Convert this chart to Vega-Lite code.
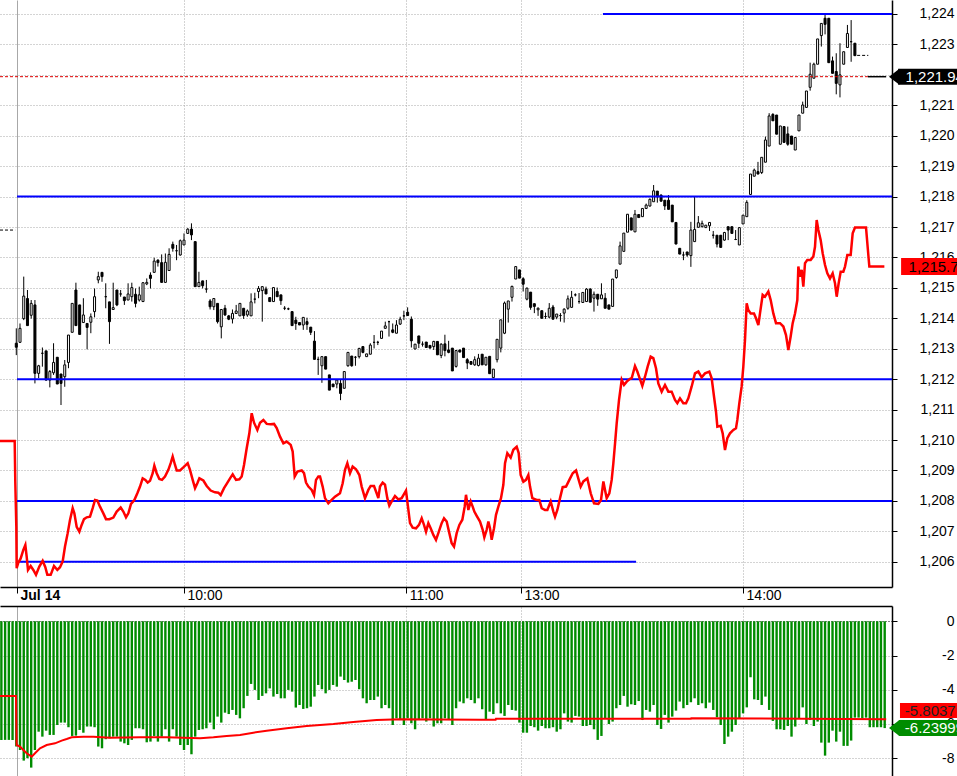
{
"$schema": "https://vega.github.io/schema/vega-lite/v6.json",
"padding": 0,
"bounds": "flush",
"spacing": 19,
"background": "white",
"config": {"view": {"stroke": null}, "font": "Liberation Sans", "axis": {"labelOverlap": false, "labelSeparation": 0}, "axisY": {"labelOverlap": false}, "axisQuantitative": {"labelOverlap": false}},
"datasets": {
"k": [
{"i":-4,"g":-6.93},{"i":-3,"g":-6.93},{"i":-2,"g":-6.93},{"i":-1,"g":-6.93},
{"i":0,"o":1213.18,"h":1213.67,"l":1212.79,"c":1213.05,"g":-7.32},
{"i":1,"o":1213.21,"h":1213.83,"l":1213.21,"c":1213.67,"g":-7.52},
{"i":2,"o":1213.99,"h":1215.37,"l":1213.94,"c":1214.73,"g":-8.14},
{"i":3,"o":1214.65,"h":1214.93,"l":1213.76,"c":1213.76,"g":-8.00},
{"i":4,"o":1214.10,"h":1214.60,"l":1213.99,"c":1214.49,"g":-8.55},
{"i":5,"o":1214.44,"h":1214.60,"l":1211.86,"c":1212.19,"g":-7.52},
{"i":6,"o":1212.19,"h":1212.47,"l":1212.03,"c":1212.44,"g":-6.45},
{"i":7,"o":1212.85,"h":1213.04,"l":1212.41,"c":1212.85,"g":-6.74},
{"i":8,"o":1212.93,"h":1212.93,"l":1211.95,"c":1211.97,"g":-6.39},
{"i":9,"o":1211.97,"h":1212.30,"l":1211.73,"c":1212.25,"g":-6.64},
{"i":10,"o":1212.21,"h":1213.18,"l":1212.14,"c":1212.55,"g":-6.64},
{"i":11,"o":1212.72,"h":1212.72,"l":1211.84,"c":1211.84,"g":-6.06},
{"i":12,"o":1212.17,"h":1212.17,"l":1211.15,"c":1211.86,"g":-5.92},
{"i":13,"o":1212.08,"h":1212.63,"l":1211.75,"c":1212.47,"g":-5.92},
{"i":14,"o":1212.55,"h":1213.45,"l":1212.36,"c":1213.45,"g":-6.19},
{"i":15,"o":1213.54,"h":1214.49,"l":1213.54,"c":1214.49,"g":-6.70},
{"i":16,"o":1214.93,"h":1215.17,"l":1213.76,"c":1213.76,"g":-6.68},
{"i":17,"o":1214.44,"h":1214.44,"l":1213.47,"c":1213.47,"g":-6.35},
{"i":18,"o":1213.86,"h":1214.66,"l":1213.86,"c":1214.11,"g":-6.51},
{"i":19,"o":1213.83,"h":1213.83,"l":1212.98,"c":1213.70,"g":-6.15},
{"i":20,"o":1213.87,"h":1214.16,"l":1213.51,"c":1214.05,"g":-6.15},
{"i":21,"o":1214.22,"h":1214.98,"l":1214.03,"c":1214.71,"g":-6.19},
{"i":22,"o":1215.26,"h":1215.53,"l":1215.15,"c":1215.37,"g":-7.32},
{"i":23,"o":1215.51,"h":1215.51,"l":1215.20,"c":1215.37,"g":-7.42},
{"i":24,"o":1214.71,"h":1215.15,"l":1214.33,"c":1214.71,"g":-6.89},
{"i":25,"o":1214.54,"h":1214.54,"l":1213.16,"c":1213.89,"g":-6.84},
{"i":26,"o":1214.29,"h":1215.17,"l":1214.29,"c":1214.35,"g":-6.74},
{"i":27,"o":1214.93,"h":1214.93,"l":1214.40,"c":1214.44,"g":-6.74},
{"i":28,"o":1214.80,"h":1214.93,"l":1214.71,"c":1214.80,"g":-7.03},
{"i":29,"o":1214.70,"h":1214.70,"l":1214.44,"c":1214.58,"g":-7.13},
{"i":30,"o":1214.60,"h":1215.15,"l":1214.60,"c":1214.80,"g":-7.23},
{"i":31,"o":1214.71,"h":1215.17,"l":1214.55,"c":1215.01,"g":-6.93},
{"i":32,"o":1214.79,"h":1214.98,"l":1214.36,"c":1214.49,"g":-6.25},
{"i":33,"o":1214.60,"h":1215.04,"l":1214.55,"c":1214.77,"g":-6.25},
{"i":34,"o":1214.55,"h":1215.17,"l":1214.55,"c":1215.17,"g":-6.31},
{"i":35,"o":1215.13,"h":1215.31,"l":1215.09,"c":1215.18,"g":-7.07},
{"i":36,"o":1215.42,"h":1215.51,"l":1214.98,"c":1215.31,"g":-7.03},
{"i":37,"o":1215.51,"h":1215.99,"l":1215.51,"c":1215.88,"g":-6.70},
{"i":38,"o":1215.91,"h":1215.94,"l":1215.70,"c":1215.83,"g":-7.03},
{"i":39,"o":1215.83,"h":1216.10,"l":1215.18,"c":1215.18,"g":-6.74},
{"i":40,"o":1215.18,"h":1216.13,"l":1215.18,"c":1215.84,"g":-6.31},
{"i":41,"o":1215.57,"h":1216.30,"l":1215.57,"c":1216.10,"g":-7.03},
{"i":42,"o":1216.43,"h":1216.52,"l":1216.19,"c":1216.30,"g":-6.31},
{"i":43,"o":1216.22,"h":1216.41,"l":1215.91,"c":1216.22,"g":-6.74},
{"i":44,"o":1216.08,"h":1216.59,"l":1216.06,"c":1216.55,"g":-7.23},
{"i":45,"o":1216.41,"h":1216.79,"l":1216.41,"c":1216.57,"g":-7.52},
{"i":46,"o":1216.79,"h":1216.96,"l":1216.77,"c":1216.93,"g":-7.23},
{"i":47,"o":1216.93,"h":1217.12,"l":1216.57,"c":1216.74,"g":-7.77},
{"i":48,"o":1216.52,"h":1216.52,"l":1215.04,"c":1215.04,"g":-6.74},
{"i":49,"o":1215.04,"h":1215.53,"l":1215.04,"c":1215.18,"g":-6.35},
{"i":50,"o":1215.23,"h":1215.23,"l":1214.98,"c":1215.07,"g":-6.31},
{"i":51,"o":1214.96,"h":1215.26,"l":1214.84,"c":1214.96,"g":-6.25},
{"i":52,"o":1214.57,"h":1214.63,"l":1214.29,"c":1214.38,"g":-5.92},
{"i":53,"o":1214.38,"h":1214.65,"l":1214.27,"c":1214.65,"g":-6.31},
{"i":54,"o":1214.49,"h":1214.49,"l":1213.83,"c":1213.89,"g":-5.57},
{"i":55,"o":1213.72,"h":1214.29,"l":1213.34,"c":1214.29,"g":-5.92},
{"i":56,"o":1214.33,"h":1214.44,"l":1214.08,"c":1214.11,"g":-5.34},
{"i":57,"o":1214.08,"h":1214.11,"l":1213.94,"c":1213.97,"g":-5.42},
{"i":58,"o":1213.98,"h":1214.29,"l":1213.83,"c":1214.16,"g":-5.18},
{"i":59,"o":1214.16,"h":1214.44,"l":1214.14,"c":1214.24,"g":-5.47},
{"i":60,"o":1214.08,"h":1214.49,"l":1214.08,"c":1214.49,"g":-5.67},
{"i":61,"o":1214.33,"h":1214.33,"l":1213.98,"c":1214.09,"g":-5.08},
{"i":62,"o":1214.11,"h":1214.29,"l":1214.05,"c":1214.24,"g":-4.36},
{"i":63,"o":1214.08,"h":1214.82,"l":1214.08,"c":1214.54,"g":-3.66},
{"i":64,"o":1214.63,"h":1214.84,"l":1214.49,"c":1214.63,"g":-4.01},
{"i":65,"o":1214.88,"h":1215.06,"l":1214.66,"c":1214.98,"g":-4.60},
{"i":66,"o":1214.91,"h":1215.06,"l":1213.89,"c":1215.04,"g":-4.36},
{"i":67,"o":1214.96,"h":1215.04,"l":1214.80,"c":1214.80,"g":-4.21},
{"i":68,"o":1214.68,"h":1214.68,"l":1214.55,"c":1214.55,"g":-3.92},
{"i":69,"o":1214.55,"h":1215.01,"l":1214.55,"c":1215.01,"g":-4.40},
{"i":70,"o":1214.88,"h":1215.01,"l":1214.71,"c":1214.71,"g":-4.25},
{"i":71,"o":1214.77,"h":1214.77,"l":1214.44,"c":1214.58,"g":-4.50},
{"i":72,"o":1214.33,"h":1214.40,"l":1214.27,"c":1214.33,"g":-4.50},
{"i":73,"o":1214.31,"h":1214.35,"l":1214.27,"c":1214.31,"g":-4.01},
{"i":74,"o":1214.22,"h":1214.22,"l":1213.76,"c":1213.76,"g":-4.11},
{"i":75,"o":1213.94,"h":1214.05,"l":1213.62,"c":1213.83,"g":-5.04},
{"i":76,"o":1213.86,"h":1213.86,"l":1213.78,"c":1213.78,"g":-4.89},
{"i":77,"o":1213.78,"h":1214.03,"l":1213.62,"c":1214.03,"g":-5.12},
{"i":78,"o":1213.89,"h":1214.02,"l":1213.62,"c":1213.80,"g":-5.08},
{"i":79,"o":1213.71,"h":1213.71,"l":1213.45,"c":1213.54,"g":-4.99},
{"i":80,"o":1213.25,"h":1213.58,"l":1212.65,"c":1212.65,"g":-4.40},
{"i":81,"o":1212.65,"h":1212.74,"l":1212.14,"c":1212.65,"g":-3.72},
{"i":82,"o":1212.44,"h":1212.74,"l":1211.88,"c":1212.74,"g":-3.97},
{"i":83,"o":1212.74,"h":1212.74,"l":1212.33,"c":1212.33,"g":-4.21},
{"i":84,"o":1212.14,"h":1212.14,"l":1211.64,"c":1211.64,"g":-4.01},
{"i":85,"o":1211.84,"h":1211.84,"l":1211.75,"c":1211.75,"g":-3.72},
{"i":86,"o":1211.84,"h":1211.99,"l":1211.70,"c":1211.97,"g":-3.82},
{"i":87,"o":1211.86,"h":1211.99,"l":1211.31,"c":1211.53,"g":-3.23},
{"i":88,"o":1211.70,"h":1212.25,"l":1211.70,"c":1212.25,"g":-3.43},
{"i":89,"o":1212.44,"h":1212.88,"l":1212.41,"c":1212.88,"g":-3.58},
{"i":90,"o":1212.76,"h":1212.76,"l":1212.41,"c":1212.44,"g":-3.53},
{"i":91,"o":1212.72,"h":1212.76,"l":1212.44,"c":1212.72,"g":-3.43},
{"i":92,"o":1212.74,"h":1213.03,"l":1212.68,"c":1213.01,"g":-3.97},
{"i":93,"o":1213.07,"h":1213.09,"l":1212.85,"c":1212.88,"g":-4.50},
{"i":94,"o":1212.74,"h":1212.83,"l":1212.74,"c":1212.83,"g":-4.79},
{"i":95,"o":1212.82,"h":1213.18,"l":1212.82,"c":1213.12,"g":-4.60},
{"i":96,"o":1213.21,"h":1213.45,"l":1213.01,"c":1213.21,"g":-4.60},
{"i":97,"o":1213.21,"h":1213.26,"l":1213.12,"c":1213.21,"g":-4.40},
{"i":98,"o":1213.34,"h":1213.58,"l":1213.34,"c":1213.58,"g":-5.08},
{"i":99,"o":1213.67,"h":1213.89,"l":1213.67,"c":1213.75,"g":-4.89},
{"i":100,"o":1213.89,"h":1213.92,"l":1213.40,"c":1213.89,"g":-5.08},
{"i":101,"o":1213.62,"h":1213.83,"l":1213.51,"c":1213.54,"g":-6.06},
{"i":102,"o":1213.51,"h":1213.94,"l":1213.51,"c":1213.78,"g":-5.67},
{"i":103,"o":1213.81,"h":1214.05,"l":1213.78,"c":1213.97,"g":-5.77},
{"i":104,"o":1214.08,"h":1214.25,"l":1213.94,"c":1214.08,"g":-6.06},
{"i":105,"o":1214.20,"h":1214.36,"l":1214.09,"c":1214.09,"g":-5.67},
{"i":106,"o":1213.97,"h":1214.06,"l":1213.04,"c":1213.26,"g":-5.96},
{"i":107,"o":1212.99,"h":1213.15,"l":1212.99,"c":1213.15,"g":-6.31},
{"i":108,"o":1213.42,"h":1213.42,"l":1213.02,"c":1213.18,"g":-5.77},
{"i":109,"o":1213.15,"h":1213.24,"l":1213.07,"c":1213.15,"g":-5.67},
{"i":110,"o":1213.22,"h":1213.22,"l":1213.04,"c":1213.04,"g":-5.86},
{"i":111,"o":1213.11,"h":1213.11,"l":1213.02,"c":1213.02,"g":-5.67},
{"i":112,"o":1213.07,"h":1213.26,"l":1212.96,"c":1213.24,"g":-6.15},
{"i":113,"o":1213.24,"h":1213.24,"l":1212.80,"c":1212.80,"g":-5.96},
{"i":114,"o":1212.78,"h":1213.18,"l":1212.69,"c":1213.15,"g":-5.96},
{"i":115,"o":1213.16,"h":1213.46,"l":1212.75,"c":1212.94,"g":-5.67},
{"i":116,"o":1212.96,"h":1213.26,"l":1212.85,"c":1212.88,"g":-5.77},
{"i":117,"o":1213.02,"h":1213.02,"l":1212.27,"c":1212.27,"g":-6.06},
{"i":118,"o":1212.42,"h":1212.96,"l":1212.38,"c":1212.94,"g":-5.08},
{"i":119,"o":1212.96,"h":1212.96,"l":1212.89,"c":1212.89,"g":-4.69},
{"i":120,"o":1213.02,"h":1213.02,"l":1212.71,"c":1212.71,"g":-4.79},
{"i":121,"o":1212.64,"h":1212.69,"l":1212.33,"c":1212.53,"g":-4.50},
{"i":122,"o":1212.58,"h":1212.58,"l":1212.49,"c":1212.49,"g":-4.60},
{"i":123,"o":1212.47,"h":1212.75,"l":1212.44,"c":1212.64,"g":-4.79},
{"i":124,"o":1212.45,"h":1212.83,"l":1212.42,"c":1212.69,"g":-4.50},
{"i":125,"o":1212.82,"h":1212.82,"l":1212.47,"c":1212.47,"g":-5.14},
{"i":126,"o":1212.47,"h":1212.72,"l":1212.44,"c":1212.72,"g":-5.71},
{"i":127,"o":1212.75,"h":1212.75,"l":1212.18,"c":1212.18,"g":-5.28},
{"i":128,"o":1212.05,"h":1212.33,"l":1212.05,"c":1212.33,"g":-5.42},
{"i":129,"o":1212.64,"h":1213.31,"l":1212.55,"c":1213.31,"g":-4.79},
{"i":130,"o":1213.02,"h":1213.95,"l":1212.88,"c":1213.95,"g":-5.38},
{"i":131,"o":1213.51,"h":1214.55,"l":1213.48,"c":1214.50,"g":-5.53},
{"i":132,"o":1214.30,"h":1214.57,"l":1213.86,"c":1214.57,"g":-4.89},
{"i":133,"o":1214.69,"h":1215.07,"l":1214.55,"c":1215.05,"g":-5.18},
{"i":134,"o":1215.29,"h":1215.70,"l":1215.29,"c":1215.70,"g":-5.22},
{"i":135,"o":1215.59,"h":1215.59,"l":1215.32,"c":1215.32,"g":-5.92},
{"i":136,"o":1215.30,"h":1215.35,"l":1214.88,"c":1215.12,"g":-6.51},
{"i":137,"o":1214.63,"h":1215.01,"l":1214.59,"c":1214.99,"g":-6.51},
{"i":138,"o":1214.86,"h":1214.86,"l":1214.28,"c":1214.36,"g":-6.12},
{"i":139,"o":1214.48,"h":1214.48,"l":1214.17,"c":1214.39,"g":-6.19},
{"i":140,"o":1214.28,"h":1214.36,"l":1214.08,"c":1214.33,"g":-6.39},
{"i":141,"o":1214.25,"h":1214.25,"l":1214.00,"c":1214.00,"g":-6.12},
{"i":142,"o":1214.06,"h":1214.19,"l":1213.98,"c":1214.06,"g":-6.25},
{"i":143,"o":1214.04,"h":1214.50,"l":1214.00,"c":1214.33,"g":-6.25},
{"i":144,"o":1214.37,"h":1214.44,"l":1213.97,"c":1213.97,"g":-6.19},
{"i":145,"o":1214.04,"h":1214.14,"l":1213.97,"c":1214.14,"g":-6.45},
{"i":146,"o":1214.09,"h":1214.17,"l":1213.89,"c":1214.09,"g":-6.31},
{"i":147,"o":1214.17,"h":1214.33,"l":1213.86,"c":1214.30,"g":-5.38},
{"i":148,"o":1214.33,"h":1214.75,"l":1214.28,"c":1214.64,"g":-5.86},
{"i":149,"o":1214.36,"h":1214.90,"l":1214.36,"c":1214.69,"g":-5.92},
{"i":150,"o":1214.77,"h":1214.82,"l":1214.72,"c":1214.77,"g":-5.53},
{"i":151,"o":1214.55,"h":1214.83,"l":1214.48,"c":1214.55,"g":-5.57},
{"i":152,"o":1214.52,"h":1214.85,"l":1214.52,"c":1214.85,"g":-6.12},
{"i":153,"o":1214.55,"h":1214.99,"l":1214.55,"c":1214.96,"g":-6.12},
{"i":154,"o":1214.96,"h":1214.99,"l":1214.52,"c":1214.53,"g":-6.06},
{"i":155,"o":1214.66,"h":1214.88,"l":1214.22,"c":1214.79,"g":-6.31},
{"i":156,"o":1214.79,"h":1214.79,"l":1214.41,"c":1214.63,"g":-6.93},
{"i":157,"o":1214.64,"h":1215.15,"l":1214.64,"c":1214.77,"g":-6.70},
{"i":158,"o":1214.66,"h":1214.83,"l":1214.33,"c":1214.33,"g":-5.67},
{"i":159,"o":1214.44,"h":1214.44,"l":1214.30,"c":1214.30,"g":-6.00},
{"i":160,"o":1214.39,"h":1215.29,"l":1214.39,"c":1215.29,"g":-5.86},
{"i":161,"o":1215.34,"h":1215.59,"l":1215.30,"c":1215.59,"g":-5.08},
{"i":162,"o":1215.78,"h":1216.52,"l":1215.78,"c":1216.38,"g":-4.89},
{"i":163,"o":1216.20,"h":1216.80,"l":1216.20,"c":1216.80,"g":-4.36},
{"i":164,"o":1216.83,"h":1217.42,"l":1216.83,"c":1217.42,"g":-4.99},
{"i":165,"o":1217.30,"h":1217.30,"l":1216.90,"c":1216.90,"g":-4.85},
{"i":166,"o":1216.84,"h":1217.56,"l":1216.84,"c":1217.42,"g":-4.89},
{"i":167,"o":1217.41,"h":1217.41,"l":1217.31,"c":1217.31,"g":-4.66},
{"i":168,"o":1217.34,"h":1217.61,"l":1217.34,"c":1217.61,"g":-5.77},
{"i":169,"o":1217.61,"h":1217.77,"l":1217.59,"c":1217.72,"g":-5.18},
{"i":170,"o":1217.69,"h":1217.94,"l":1217.67,"c":1217.91,"g":-5.28},
{"i":171,"o":1217.83,"h":1218.38,"l":1217.83,"c":1218.19,"g":-4.89},
{"i":172,"o":1218.18,"h":1218.18,"l":1217.80,"c":1217.99,"g":-6.06},
{"i":173,"o":1218.05,"h":1218.07,"l":1217.83,"c":1217.85,"g":-6.29},
{"i":174,"o":1217.88,"h":1217.88,"l":1217.56,"c":1217.69,"g":-5.47},
{"i":175,"o":1217.88,"h":1218.05,"l":1217.58,"c":1217.58,"g":-5.92},
{"i":176,"o":1217.72,"h":1217.72,"l":1217.17,"c":1217.17,"g":-5.57},
{"i":177,"o":1217.15,"h":1217.15,"l":1216.44,"c":1216.44,"g":-5.22},
{"i":178,"o":1216.30,"h":1216.30,"l":1216.11,"c":1216.11,"g":-4.69},
{"i":179,"o":1216.08,"h":1216.19,"l":1215.91,"c":1216.08,"g":-5.08},
{"i":180,"o":1216.18,"h":1216.18,"l":1216.02,"c":1216.08,"g":-4.89},
{"i":181,"o":1216.06,"h":1217.17,"l":1215.69,"c":1216.90,"g":-4.73},
{"i":182,"o":1216.52,"h":1217.99,"l":1216.52,"c":1216.92,"g":-4.50},
{"i":183,"o":1216.99,"h":1217.36,"l":1216.99,"c":1217.14,"g":-4.89},
{"i":184,"o":1217.01,"h":1217.21,"l":1216.99,"c":1217.12,"g":-4.79},
{"i":185,"o":1216.98,"h":1217.06,"l":1216.98,"c":1217.06,"g":-5.08},
{"i":186,"o":1217.04,"h":1217.15,"l":1216.87,"c":1217.15,"g":-4.75},
{"i":187,"o":1216.73,"h":1216.87,"l":1216.62,"c":1216.73,"g":-5.18},
{"i":188,"o":1216.73,"h":1216.73,"l":1216.33,"c":1216.44,"g":-5.61},
{"i":189,"o":1216.73,"h":1216.73,"l":1216.33,"c":1216.33,"g":-6.06},
{"i":190,"o":1216.57,"h":1216.84,"l":1216.55,"c":1216.82,"g":-7.17},
{"i":191,"o":1217.01,"h":1217.01,"l":1216.57,"c":1216.90,"g":-6.74},
{"i":192,"o":1217.01,"h":1217.01,"l":1216.79,"c":1216.79,"g":-6.45},
{"i":193,"o":1216.59,"h":1216.90,"l":1216.57,"c":1216.59,"g":-6.06},
{"i":194,"o":1216.41,"h":1216.98,"l":1216.41,"c":1216.98,"g":-5.67},
{"i":195,"o":1217.10,"h":1217.39,"l":1217.10,"c":1217.39,"g":-5.38},
{"i":196,"o":1217.34,"h":1217.88,"l":1217.34,"c":1217.81,"g":-5.03},
{"i":197,"o":1218.07,"h":1218.74,"l":1218.07,"c":1218.74,"g":-3.27},
{"i":198,"o":1218.67,"h":1218.92,"l":1218.67,"c":1218.87,"g":-4.56},
{"i":199,"o":1218.82,"h":1219.14,"l":1218.74,"c":1218.74,"g":-4.60},
{"i":200,"o":1218.79,"h":1219.29,"l":1218.74,"c":1219.29,"g":-4.89},
{"i":201,"o":1219.13,"h":1219.97,"l":1219.13,"c":1219.86,"g":-4.40},
{"i":202,"o":1219.66,"h":1220.74,"l":1219.66,"c":1220.65,"g":-5.18},
{"i":203,"o":1220.70,"h":1220.74,"l":1220.49,"c":1220.49,"g":-5.82},
{"i":204,"o":1220.68,"h":1220.68,"l":1220.05,"c":1220.05,"g":-6.31},
{"i":205,"o":1219.72,"h":1220.32,"l":1219.72,"c":1220.32,"g":-6.31},
{"i":206,"o":1220.30,"h":1220.30,"l":1219.78,"c":1219.78,"g":-6.35},
{"i":207,"o":1220.06,"h":1220.30,"l":1219.67,"c":1219.72,"g":-6.12},
{"i":208,"o":1219.99,"h":1219.99,"l":1219.72,"c":1219.72,"g":-6.74},
{"i":209,"o":1219.53,"h":1219.94,"l":1219.53,"c":1219.94,"g":-6.15},
{"i":210,"o":1220.16,"h":1220.68,"l":1220.16,"c":1220.68,"g":-5.67},
{"i":211,"o":1220.74,"h":1221.12,"l":1220.74,"c":1221.01,"g":-5.03},
{"i":212,"o":1220.93,"h":1221.47,"l":1220.93,"c":1221.47,"g":-6.00},
{"i":213,"o":1221.59,"h":1222.40,"l":1221.48,"c":1222.02,"g":-5.77},
{"i":214,"o":1221.89,"h":1222.40,"l":1221.89,"c":1222.35,"g":-6.12},
{"i":215,"o":1222.35,"h":1223.18,"l":1222.35,"c":1223.18,"g":-5.86},
{"i":216,"o":1223.29,"h":1223.69,"l":1222.93,"c":1223.69,"g":-7.09},
{"i":217,"o":1223.86,"h":1223.97,"l":1223.33,"c":1223.66,"g":-7.85},
{"i":218,"o":1223.86,"h":1223.86,"l":1222.40,"c":1222.40,"g":-7.09},
{"i":219,"o":1222.46,"h":1222.60,"l":1222.05,"c":1222.05,"g":-6.39},
{"i":220,"o":1222.11,"h":1222.71,"l":1221.36,"c":1221.72,"g":-7.03},
{"i":221,"o":1221.67,"h":1223.04,"l":1221.26,"c":1222.00,"g":-6.45},
{"i":222,"o":1222.35,"h":1222.76,"l":1222.35,"c":1222.76,"g":-7.28},
{"i":223,"o":1222.90,"h":1223.64,"l":1222.90,"c":1223.36,"g":-7.28},
{"i":224,"o":1223.09,"h":1223.80,"l":1222.43,"c":1223.09,"g":-6.97},
{"i":225,"o":1223.04,"h":1223.04,"l":1222.63,"c":1222.63,"g":-5.63},
{"i":226,"g":-5.63},{"i":227,"g":-5.67},{"i":228,"g":-5.63},{"i":229,"g":-6.19},{"i":230,"g":-6.19},{"i":231,"g":-6.19},{"i":232,"g":-6.19},{"i":233,"g":-6.24}
],
"ln": [
{"t":-4.37,"v":1209.97},{"t":-0.43,"v":1209.97},{"t":-0.26,"v":1208.58},{"t":0.01,"v":1207.15},{"t":0.10,"v":1205.79},{"t":0.55,"v":1205.97},{"t":1.18,"v":1206.11},{"t":1.89,"v":1206.39},{"t":2.43,"v":1206.55},{"t":2.79,"v":1206.17},{"t":3.14,"v":1205.73},{"t":3.86,"v":1205.86},{"t":4.57,"v":1205.73},{"t":5.29,"v":1205.57},{"t":6.18,"v":1205.84},{"t":7.08,"v":1206.03},{"t":7.79,"v":1205.82},{"t":8.33,"v":1205.57},{"t":9.23,"v":1205.57},{"t":10.12,"v":1205.86},{"t":11.01,"v":1205.73},{"t":11.73,"v":1205.82},{"t":12.45,"v":1206.01},{"t":13.07,"v":1206.50},{"t":13.79,"v":1206.94},{"t":14.41,"v":1207.37},{"t":15.13,"v":1207.76},{"t":15.58,"v":1207.59},{"t":16.20,"v":1207.15},{"t":16.92,"v":1206.99},{"t":17.54,"v":1207.21},{"t":18.17,"v":1207.40},{"t":18.89,"v":1207.46},{"t":19.78,"v":1207.48},{"t":20.50,"v":1207.76},{"t":21.12,"v":1208.03},{"t":21.75,"v":1208.01},{"t":22.46,"v":1207.81},{"t":23.36,"v":1207.59},{"t":24.07,"v":1207.40},{"t":24.97,"v":1207.40},{"t":26.04,"v":1207.45},{"t":26.94,"v":1207.65},{"t":28.01,"v":1207.78},{"t":28.72,"v":1207.65},{"t":29.44,"v":1207.46},{"t":30.07,"v":1207.59},{"t":30.78,"v":1207.90},{"t":31.68,"v":1208.03},{"t":32.48,"v":1208.25},{"t":33.20,"v":1208.47},{"t":33.91,"v":1208.74},{"t":34.63,"v":1208.69},{"t":35.25,"v":1208.60},{"t":35.88,"v":1208.66},{"t":36.60,"v":1208.91},{"t":37.04,"v":1209.16},{"t":37.67,"v":1208.91},{"t":38.38,"v":1208.72},{"t":39.10,"v":1208.69},{"t":39.90,"v":1208.80},{"t":40.80,"v":1209.02},{"t":41.43,"v":1209.24},{"t":41.96,"v":1209.46},{"t":42.59,"v":1209.18},{"t":43.04,"v":1209.00},{"t":43.93,"v":1209.00},{"t":44.82,"v":1209.10},{"t":45.99,"v":1209.24},{"t":46.61,"v":1209.02},{"t":47.33,"v":1208.69},{"t":47.96,"v":1208.42},{"t":48.58,"v":1208.58},{"t":49.12,"v":1208.74},{"t":50.19,"v":1208.67},{"t":51.09,"v":1208.49},{"t":52.16,"v":1208.34},{"t":53.32,"v":1208.28},{"t":54.22,"v":1208.27},{"t":54.84,"v":1208.19},{"t":55.74,"v":1208.42},{"t":56.45,"v":1208.56},{"t":57.35,"v":1208.74},{"t":58.06,"v":1208.87},{"t":58.96,"v":1208.69},{"t":59.85,"v":1208.71},{"t":60.48,"v":1208.80},{"t":61.10,"v":1209.18},{"t":61.82,"v":1209.73},{"t":62.53,"v":1210.22},{"t":63.16,"v":1210.88},{"t":63.79,"v":1210.57},{"t":64.68,"v":1210.33},{"t":65.40,"v":1210.57},{"t":66.29,"v":1210.66},{"t":67.19,"v":1210.53},{"t":68.26,"v":1210.52},{"t":69.15,"v":1210.53},{"t":69.87,"v":1210.39},{"t":70.76,"v":1210.11},{"t":71.66,"v":1209.89},{"t":72.55,"v":1209.95},{"t":73.63,"v":1209.84},{"t":74.16,"v":1209.62},{"t":74.70,"v":1208.80},{"t":75.42,"v":1208.96},{"t":76.58,"v":1209.00},{"t":77.20,"v":1208.91},{"t":77.74,"v":1208.60},{"t":78.37,"v":1208.47},{"t":79.26,"v":1208.36},{"t":79.89,"v":1208.19},{"t":80.42,"v":1208.69},{"t":81.05,"v":1208.80},{"t":81.49,"v":1208.80},{"t":82.20,"v":1208.47},{"t":82.83,"v":1208.09},{"t":83.72,"v":1207.92},{"t":84.62,"v":1208.03},{"t":85.51,"v":1208.14},{"t":86.85,"v":1208.25},{"t":87.57,"v":1208.58},{"t":88.20,"v":1209.02},{"t":88.82,"v":1209.24},{"t":89.54,"v":1208.91},{"t":90.25,"v":1209.13},{"t":91.15,"v":1209.04},{"t":92.04,"v":1208.85},{"t":92.67,"v":1208.47},{"t":93.56,"v":1208.09},{"t":94.46,"v":1208.36},{"t":95.08,"v":1208.49},{"t":95.98,"v":1208.49},{"t":96.69,"v":1208.25},{"t":97.14,"v":1208.09},{"t":97.59,"v":1208.47},{"t":98.30,"v":1208.60},{"t":98.93,"v":1208.53},{"t":99.55,"v":1208.09},{"t":100.09,"v":1207.84},{"t":100.72,"v":1207.98},{"t":101.61,"v":1208.16},{"t":102.51,"v":1208.05},{"t":103.40,"v":1208.09},{"t":104.56,"v":1208.34},{"t":104.92,"v":1207.98},{"t":105.64,"v":1207.27},{"t":106.35,"v":1207.12},{"t":107.25,"v":1207.10},{"t":108.05,"v":1207.21},{"t":108.77,"v":1207.43},{"t":109.39,"v":1207.21},{"t":109.93,"v":1206.99},{"t":110.56,"v":1207.27},{"t":111.18,"v":1207.10},{"t":111.90,"v":1206.88},{"t":112.61,"v":1206.72},{"t":113.24,"v":1206.94},{"t":114.13,"v":1207.27},{"t":114.76,"v":1207.43},{"t":115.48,"v":1207.32},{"t":116.19,"v":1206.94},{"t":116.82,"v":1206.61},{"t":117.44,"v":1206.50},{"t":118.16,"v":1206.94},{"t":118.88,"v":1207.21},{"t":119.68,"v":1207.38},{"t":120.31,"v":1207.81},{"t":120.66,"v":1208.20},{"t":121.29,"v":1207.70},{"t":121.92,"v":1207.98},{"t":122.45,"v":1207.81},{"t":122.90,"v":1207.65},{"t":123.53,"v":1207.51},{"t":124.42,"v":1207.32},{"t":125.14,"v":1207.05},{"t":125.58,"v":1206.80},{"t":126.21,"v":1207.05},{"t":126.66,"v":1207.32},{"t":127.10,"v":1207.10},{"t":127.55,"v":1206.72},{"t":128.18,"v":1207.10},{"t":128.71,"v":1207.54},{"t":129.34,"v":1207.81},{"t":130.05,"v":1208.09},{"t":130.68,"v":1208.53},{"t":131.13,"v":1209.24},{"t":131.75,"v":1209.57},{"t":132.65,"v":1209.42},{"t":133.36,"v":1209.68},{"t":134.26,"v":1209.78},{"t":134.80,"v":1209.57},{"t":135.33,"v":1208.85},{"t":136.05,"v":1208.63},{"t":136.76,"v":1208.69},{"t":137.39,"v":1208.85},{"t":137.84,"v":1208.47},{"t":138.46,"v":1208.09},{"t":139.63,"v":1208.03},{"t":140.34,"v":1208.03},{"t":140.97,"v":1207.76},{"t":141.86,"v":1207.70},{"t":142.49,"v":1207.70},{"t":143.38,"v":1207.98},{"t":144.10,"v":1207.65},{"t":144.55,"v":1207.48},{"t":145.17,"v":1207.70},{"t":145.89,"v":1208.09},{"t":146.60,"v":1208.45},{"t":147.50,"v":1208.47},{"t":148.39,"v":1208.69},{"t":149.29,"v":1208.91},{"t":150.18,"v":1209.00},{"t":150.90,"v":1208.69},{"t":151.43,"v":1208.47},{"t":152.15,"v":1208.64},{"t":153.22,"v":1208.74},{"t":154.12,"v":1208.25},{"t":155.01,"v":1207.92},{"t":156.17,"v":1207.90},{"t":156.89,"v":1208.03},{"t":157.52,"v":1208.64},{"t":157.96,"v":1208.36},{"t":158.41,"v":1208.09},{"t":159.12,"v":1208.25},{"t":159.75,"v":1208.69},{"t":160.20,"v":1209.24},{"t":160.65,"v":1209.89},{"t":161.09,"v":1210.55},{"t":161.72,"v":1211.32},{"t":162.44,"v":1211.98},{"t":163.06,"v":1211.81},{"t":163.78,"v":1211.92},{"t":164.67,"v":1212.01},{"t":165.11,"v":1212.03},{"t":166.00,"v":1212.43},{"t":166.63,"v":1212.25},{"t":167.34,"v":1212.00},{"t":167.97,"v":1211.78},{"t":168.69,"v":1212.08},{"t":169.40,"v":1212.41},{"t":170.21,"v":1212.74},{"t":170.92,"v":1212.69},{"t":171.64,"v":1212.36},{"t":172.26,"v":1211.86},{"t":173.16,"v":1211.59},{"t":174.05,"v":1211.81},{"t":174.95,"v":1211.59},{"t":175.84,"v":1211.59},{"t":176.74,"v":1211.32},{"t":177.36,"v":1211.21},{"t":178.08,"v":1211.37},{"t":178.97,"v":1211.21},{"t":179.69,"v":1211.21},{"t":180.31,"v":1211.37},{"t":181.21,"v":1211.76},{"t":182.10,"v":1212.19},{"t":183.00,"v":1212.25},{"t":183.89,"v":1212.06},{"t":184.79,"v":1212.19},{"t":185.95,"v":1212.25},{"t":186.58,"v":1212.03},{"t":187.20,"v":1211.43},{"t":187.74,"v":1210.93},{"t":188.10,"v":1210.44},{"t":188.99,"v":1210.47},{"t":189.53,"v":1210.22},{"t":190.15,"v":1209.67},{"t":190.78,"v":1210.06},{"t":191.49,"v":1210.22},{"t":192.39,"v":1210.33},{"t":193.10,"v":1210.39},{"t":193.46,"v":1210.66},{"t":194.00,"v":1211.21},{"t":194.62,"v":1211.76},{"t":195.07,"v":1212.41},{"t":195.52,"v":1213.29},{"t":195.97,"v":1214.49},{"t":196.41,"v":1214.27},{"t":197.04,"v":1214.16},{"t":197.93,"v":1214.16},{"t":198.47,"v":1214.00},{"t":199.10,"v":1213.78},{"t":199.54,"v":1214.16},{"t":200.26,"v":1214.77},{"t":200.88,"v":1214.71},{"t":201.78,"v":1214.88},{"t":202.41,"v":1214.60},{"t":203.12,"v":1214.16},{"t":203.84,"v":1213.84},{"t":204.91,"v":1213.84},{"t":205.81,"v":1213.73},{"t":206.52,"v":1213.45},{"t":207.15,"v":1212.96},{"t":207.77,"v":1213.40},{"t":208.31,"v":1213.84},{"t":208.94,"v":1214.16},{"t":209.56,"v":1214.60},{"t":209.83,"v":1215.70},{"t":210.28,"v":1215.37},{"t":210.72,"v":1215.59},{"t":211.17,"v":1215.04},{"t":211.62,"v":1215.81},{"t":212.24,"v":1215.92},{"t":213.14,"v":1215.92},{"t":213.85,"v":1216.03},{"t":214.30,"v":1216.35},{"t":214.75,"v":1217.23},{"t":215.20,"v":1216.90},{"t":215.82,"v":1216.57},{"t":216.36,"v":1216.14},{"t":216.99,"v":1215.75},{"t":217.61,"v":1215.48},{"t":218.33,"v":1215.31},{"t":219.04,"v":1215.48},{"t":219.67,"v":1215.15},{"t":220.12,"v":1214.71},{"t":220.65,"v":1215.15},{"t":221.19,"v":1215.53},{"t":221.90,"v":1215.53},{"t":222.35,"v":1215.70},{"t":222.98,"v":1216.08},{"t":223.87,"v":1216.08},{"t":224.41,"v":1216.79},{"t":225.03,"v":1216.98},{"t":227.99,"v":1216.98},{"t":228.61,"v":1216.08},{"t":228.88,"v":1215.70},{"t":232.91,"v":1215.70}
],
"osc": [
{"t":-4.37,"v":-4.36},{"t":-0.08,"v":-4.36},{"t":0.10,"v":-7.23},{"t":1.0,"v":-7.32},{"t":1.89,"v":-7.52},{"t":2.79,"v":-7.71},{"t":4.13,"v":-7.91},{"t":5.02,"v":-7.71},{"t":6.36,"v":-7.42},{"t":8.15,"v":-7.23},{"t":10.39,"v":-7.13},{"t":12.18,"v":-6.97},{"t":13.52,"v":-6.88},{"t":14.86,"v":-6.78},{"t":18.0,"v":-6.74},{"t":20.67,"v":-6.74},{"t":25.15,"v":-6.80},{"t":33.2,"v":-6.78},{"t":40.35,"v":-6.78},{"t":49.3,"v":-6.84},{"t":52.9,"v":-6.78},{"t":56.45,"v":-6.70},{"t":60.03,"v":-6.64},{"t":63.6,"v":-6.51},{"t":67.19,"v":-6.39},{"t":72.55,"v":-6.25},{"t":77.92,"v":-6.12},{"t":85.08,"v":-6.00},{"t":90.44,"v":-5.88},{"t":96.7,"v":-5.77},{"t":102.96,"v":-5.73},{"t":124.4,"v":-5.76},{"t":128.6,"v":-5.76},{"t":128.7,"v":-5.70},{"t":181.0,"v":-5.70},{"t":181.1,"v":-5.66},{"t":233.4,"v":-5.72}
],
"lev": [
{"lv":1224,"a":157.4,"b":234.96},{"lv":1218,"a":0.2,"b":234.96},{"lv":1212,"a":0.2,"b":234.96},{"lv":1208,"a":0.2,"b":234.96},{"lv":1206,"a":0.2,"b":166.3}
]
},
"vconcat": [
{
"width": 892,
"height": 587,
"layer": [
{
"data": {"name": "k"},
"transform": [{"filter": "isValid(datum.o)"}],
"mark": {"type": "rule", "color": "black", "strokeWidth": 1, "clip": true},
"encoding": {
"x": {"field": "i", "type": "quantitative", "title": null,
"scale": {"domain": [-4.37, 234.96], "nice": false, "zero": false, "padding": 0},
"axis": {"orient": "bottom", "values": [0.2, 45, 104.6, 135.4, 195],
"labelExpr": "datum.value < 1 ? 'Jul 14' : datum.value < 50 ? '10:00' : datum.value < 110 ? '11:00' : datum.value < 150 ? '13:00' : '14:00'",
"labelAlign": "left", "labelBaseline": "top", "labelOffset": 3, "labelPadding": -5,
"labelFont": "Liberation Sans", "labelFontSize": 14, "labelColor": "black",
"labelFontWeight": {"condition": {"test": "datum.value < 1", "value": "bold"}, "value": "normal"},
"labelFlush": false, "labelOverlap": false, "labelBound": false,
"tickSize": 6, "tickColor": "black", "domainColor": "black", "domainWidth": 1.5,
"grid": true, "gridColor": "#a8a8a8",
"gridDash": {"condition": {"test": "datum.value < 1", "value": []}, "value": [1, 2]},
"title": null}},
"y": {"field": "l", "type": "quantitative", "title": null,
"scale": {"domain": [1205.17, 1224.46], "nice": false, "zero": false, "padding": 0},
"axis": {"orient": "right", "values": [1206,1207,1208,1209,1210,1211,1212,1213,1214,1215,1216,1217,1218,1219,1220,1221,1222,1223,1224],
"tickCount": 19,
"format": ",d", "labelAlign": "right", "labelBaseline": "middle", "labelPadding": 57, "tickSize": 5,
"labelFont": "Liberation Sans", "labelFontSize": 14, "labelColor": "black",
"labelFlush": false, "labelOverlap": false, "labelBound": false,
"domainColor": "black", "domainWidth": 1.5, "tickColor": "black",
"grid": true, "gridColor": "#a8a8a8", "gridDash": [1, 2], "title": null}},
"y2": {"field": "h"}
}
},
{
"data": {"name": "k"},
"transform": [{"filter": "isValid(datum.o)"}],
"mark": {"type": "bar", "width": 2, "stroke": "black", "strokeWidth": 1, "clip": true},
"encoding": {
"x": {"field": "i", "type": "quantitative", "title": null},
"y": {"field": "o", "type": "quantitative", "title": null},
"y2": {"field": "c"},
"fill": {"condition": {"test": "datum.c < datum.o", "value": "black"}, "value": "white"}
}
},
{
"data": {"name": "lev"},
"mark": {"type": "rule", "color": "#0000ff", "strokeWidth": 2, "clip": true},
"encoding": {
"x": {"field": "a", "type": "quantitative", "title": null},
"x2": {"field": "b"},
"y": {"field": "lv", "type": "quantitative", "title": null}
}
},
{
"data": {"values": [{"lv": 1221.94, "a": -4.37, "b": 228.5}]},
"mark": {"type": "rule", "color": "#e00000", "strokeWidth": 1, "strokeDash": [3, 2], "clip": true},
"encoding": {
"x": {"field": "a", "type": "quantitative", "title": null},
"x2": {"field": "b"},
"y": {"field": "lv", "type": "quantitative", "title": null}
}
},
{
"data": {"values": [{"lv": 1216.9, "a": -4.37, "b": -0.3}, {"lv": 1222.64, "a": 225.6, "b": 228.6}]},
"mark": {"type": "rule", "color": "black", "strokeWidth": 1, "strokeDash": [3, 2], "clip": true},
"encoding": {
"x": {"field": "a", "type": "quantitative", "title": null},
"x2": {"field": "b"},
"y": {"field": "lv", "type": "quantitative", "title": null}
}
},
{
"data": {"values": [{"lv": 1221.94, "a": 228.5, "b": 233.4}]},
"mark": {"type": "rule", "color": "black", "strokeWidth": 1.5, "clip": true},
"encoding": {
"x": {"field": "a", "type": "quantitative", "title": null},
"x2": {"field": "b"},
"y": {"field": "lv", "type": "quantitative", "title": null}
}
},
{
"data": {"name": "ln"},
"mark": {"type": "line", "color": "#ff0000", "strokeWidth": 2.5, "clip": true, "interpolate": "linear"},
"encoding": {
"x": {"field": "t", "type": "quantitative", "title": null},
"y": {"field": "v", "type": "quantitative", "title": null}
}
},
{
"data": {"values": [{"v": 1221.94, "label": "1,221.94"}]},
"layer": [
{"mark": {"type": "rule", "color": "black", "strokeWidth": 16, "strokeCap": "butt", "clip": false},
"encoding": {"x": {"datum": 236.6, "type": "quantitative"}, "x2": {"datum": 252.4}, "y": {"field": "v", "type": "quantitative", "title": null}}},
{"mark": {"type": "point", "shape": "M -1 0 L 0.3 -1 L 0.3 1 Z", "size": 256, "filled": true, "color": "black", "opacity": 1, "clip": false},
"encoding": {"x": {"datum": 236.3, "type": "quantitative"}, "y": {"field": "v", "type": "quantitative", "title": null}}},
{"mark": {"type": "text", "align": "left", "baseline": "middle", "color": "white", "font": "Liberation Sans", "fontSize": 15, "clip": false},
"encoding": {"x": {"datum": 238.6, "type": "quantitative"}, "y": {"field": "v", "type": "quantitative", "title": null}, "text": {"field": "label"}}}
]
},
{
"data": {"values": [{"v": 1215.7, "label": "1,215.7"}]},
"layer": [
{"mark": {"type": "rule", "color": "#ff0000", "strokeWidth": 17, "strokeCap": "butt", "clip": false},
"encoding": {"x": {"datum": 237.4, "type": "quantitative"}, "x2": {"datum": 252.4}, "y": {"field": "v", "type": "quantitative", "title": null}}},
{"mark": {"type": "text", "align": "left", "baseline": "middle", "color": "black", "font": "Liberation Sans", "fontSize": 15, "clip": false},
"encoding": {"x": {"datum": 239.4, "type": "quantitative"}, "y": {"field": "v", "type": "quantitative", "title": null}, "text": {"field": "label"}}}
]
}
]
},
{
"width": 892,
"height": 170,
"layer": [
{
"data": {"name": "k"},
"mark": {"type": "bar", "width": 2.4, "color": "#008c00", "clip": true},
"encoding": {
"x": {"field": "i", "type": "quantitative", "title": null,
"scale": {"domain": [-4.37, 234.96], "nice": false, "zero": false, "padding": 0},
"axis": {"orient": "top", "values": [0.2, 45, 104.6, 135.4, 195], "labels": false, "ticks": false,
"domain": true, "domainColor": "black", "domainWidth": 1.5,
"grid": true, "gridColor": "#a8a8a8",
"gridDash": {"condition": {"test": "datum.value < 1", "value": []}, "value": [1, 2]},
"title": null}},
"y": {"field": "g", "type": "quantitative", "title": null,
"scale": {"domain": [-9.04, 0.894], "nice": false, "zero": false, "padding": 0},
"axis": {"orient": "right", "values": [0, -2, -4, -6, -8], "labelExpr": "datum.value + ''",
"labelAlign": "right", "labelBaseline": "middle", "labelPadding": 57, "tickSize": 5,
"labelFont": "Liberation Sans", "labelFontSize": 14, "labelColor": "black",
"labelFlush": false, "labelOverlap": false, "labelBound": false,
"domainColor": "black", "domainWidth": 1.5, "tickColor": "black",
"grid": true, "gridColor": {"condition": {"test": "datum.value == 0", "value": "black"}, "value": "#a8a8a8"},
"gridDash": [1, 2], "title": null}},
"y2": {"datum": 0}
}
},
{
"data": {"name": "osc"},
"mark": {"type": "line", "color": "#ff0000", "strokeWidth": 2, "clip": true},
"encoding": {
"x": {"field": "t", "type": "quantitative", "title": null},
"y": {"field": "v", "type": "quantitative", "title": null}
}
},
{
"data": {"values": [{"v": -5.80379, "label": "-5.80379"}]},
"layer": [
{"mark": {"type": "rule", "color": "#ff0000", "strokeWidth": 15, "strokeCap": "butt", "clip": false, "yOffset": -10},
"encoding": {"x": {"datum": 237.1, "type": "quantitative"}, "x2": {"datum": 252.4}, "y": {"field": "v", "type": "quantitative", "title": null}}},
{"mark": {"type": "text", "align": "left", "baseline": "middle", "color": "#202020", "font": "Liberation Sans", "fontSize": 15, "clip": false, "yOffset": -10},
"encoding": {"x": {"datum": 238.4, "type": "quantitative"}, "y": {"field": "v", "type": "quantitative", "title": null}, "text": {"field": "label"}}}
]
},
{
"data": {"values": [{"v": -6.23999, "label": "-6.23999"}]},
"layer": [
{"mark": {"type": "rule", "color": "#008c00", "strokeWidth": 16, "strokeCap": "butt", "clip": false},
"encoding": {"x": {"datum": 236.8, "type": "quantitative"}, "x2": {"datum": 252.4}, "y": {"field": "v", "type": "quantitative", "title": null}}},
{"mark": {"type": "point", "shape": "M -1 0 L 0.3 -1 L 0.3 1 Z", "size": 256, "filled": true, "color": "#008c00", "opacity": 1, "clip": false},
"encoding": {"x": {"datum": 236.3, "type": "quantitative"}, "y": {"field": "v", "type": "quantitative", "title": null}}},
{"mark": {"type": "text", "align": "left", "baseline": "middle", "color": "white", "font": "Liberation Sans", "fontSize": 15, "clip": false},
"encoding": {"x": {"datum": 238.4, "type": "quantitative"}, "y": {"field": "v", "type": "quantitative", "title": null}, "text": {"field": "label"}}}
]
}
]
}
]
}
